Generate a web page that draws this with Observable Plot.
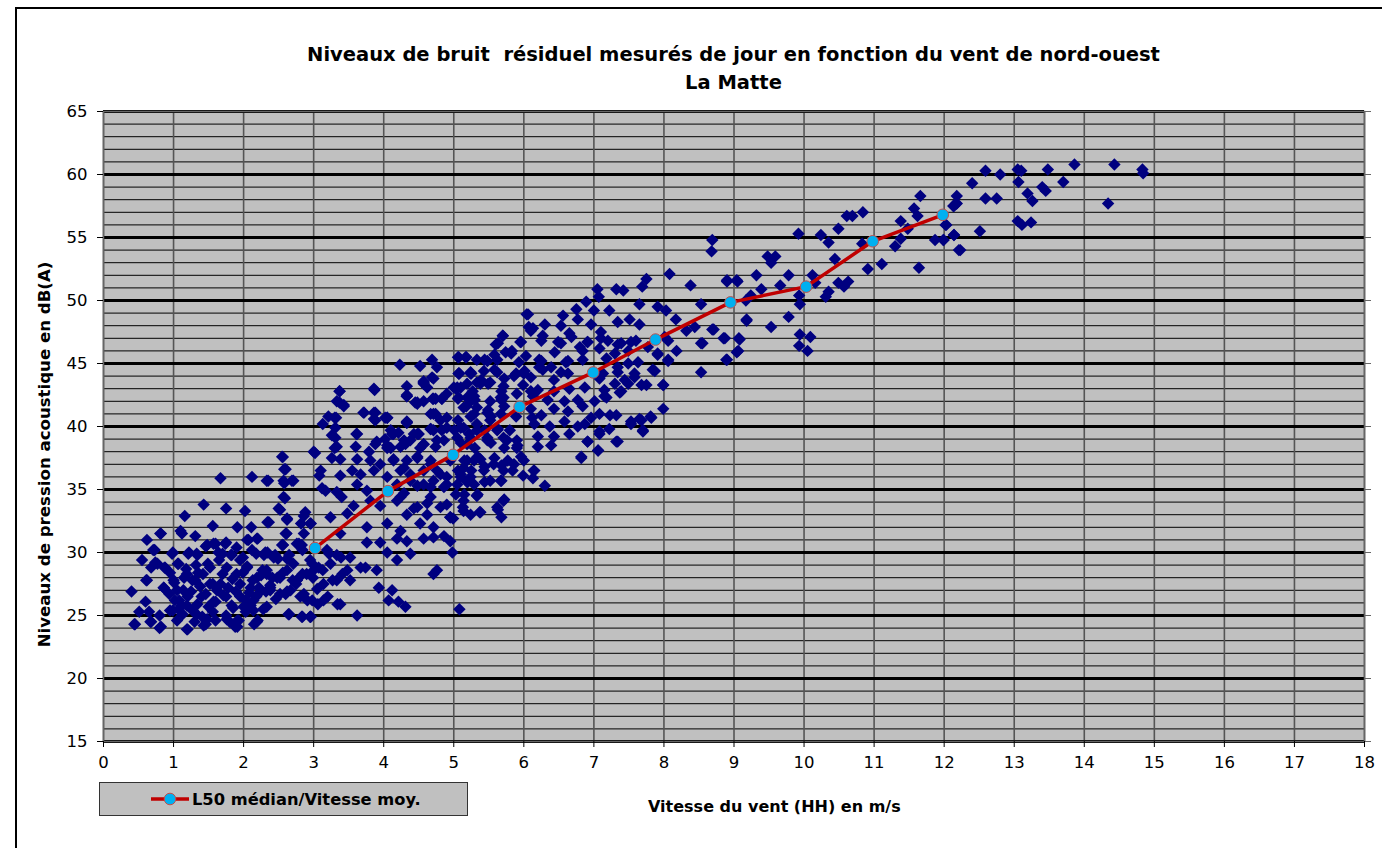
<!DOCTYPE html>
<html><head><meta charset="utf-8">
<script src="https://cdn.jsdelivr.net/npm/d3@7"></script>
<script src="https://cdn.jsdelivr.net/npm/@observablehq/plot@0.6"></script>
<style>
html,body{margin:0;padding:0;background:#fff;}
#wrap{position:relative;width:1382px;height:848px;overflow:hidden;font-family:"DejaVu Sans",sans-serif;}
#frame{position:absolute;left:15px;top:7px;width:1400px;height:900px;border:2px solid #000;box-sizing:border-box;}
#title{position:absolute;left:103px;width:1261px;top:41px;text-align:center;font-weight:bold;font-size:19.5px;line-height:28px;white-space:pre;color:#000;}
#chart{position:absolute;left:0;top:0;}
#xlabel{position:absolute;left:648px;top:797px;font-weight:bold;font-size:16px;white-space:nowrap;}
#ylabel{position:absolute;left:-156px;top:445px;width:400px;text-align:center;font-weight:bold;font-size:16.6px;transform:rotate(-90deg);white-space:nowrap;}
#legend{position:absolute;left:99px;top:782px;width:369px;height:34px;box-sizing:border-box;border:1px solid #333;background:#c0c0c0;display:flex;align-items:center;}
#legend svg{margin-left:50px;}
#legend span{font-weight:bold;font-size:16.3px;margin-left:2px;}
</style></head>
<body><div id="wrap">
<div id="frame"></div>
<div id="chart"></div>
<div id="title"></div>
<div id="ylabel"></div>
<div id="xlabel"></div>
<div id="legend"></div>
</div>
<script>
const titleLines = ["Niveaux de bruit  résiduel mesurés de jour en fonction du vent de nord-ouest", "La Matte"];
const xLabel = "Vitesse du vent (HH) en m/s";
const yLabel = "Niveaux de pression acoustique en dB(A)";
const legendLabel = "L50 médian/Vitesse moy.";
const xTicks = [0,1,2,3,4,5,6,7,8,9,10,11,12,13,14,15,16,17,18];
const yTicks = [15,20,25,30,35,40,45,50,55,60,65];
const yMinor = [15,16,17,18,19,20,21,22,23,24,25,26,27,28,29,30,31,32,33,34,35,36,37,38,39,40,41,42,43,44,45,46,47,48,49,50,51,52,53,54,55,56,57,58,59,60,61,62,63,64,65];

// L50 median by wind class
const medVent = [3.02,4.06,4.99,5.94,6.99,7.88,8.95,10.03,10.98,11.98];
const medL50  = [30.35,34.87,37.75,41.56,44.29,46.9,49.85,51.1,54.7,56.8];

// measured points [wind m/s, dB(A)]
const mesures = [
[2.56,37.57],[3.02,37.9],[3.30,38.3],[2.60,36.6],[1.67,35.9],[2.12,36.0],[2.35,35.7],[2.58,35.5],[2.71,35.7],[3.08,36.1],[3.17,34.9],[2.59,34.3],[1.43,33.8],[1.16,32.9],[1.75,33.5],[2.02,33.3],[2.52,33.4],[2.62,32.6],[2.88,33.2],[2.36,32.4],[1.56,32.1],[1.10,31.7],[0.82,31.5],[1.91,32.0],[2.11,32.0],[2.61,31.5],[2.82,32.3],[2.96,32.3],[1.46,30.5],[1.60,30.7],[1.75,30.8],[2.07,31.0],[2.20,31.1],[2.56,30.6],[2.79,30.7],[0.73,30.2],[0.99,30.0],[1.22,30.0],[1.34,29.8],[0.55,29.4],[0.68,28.8],[0.77,29.1],[0.88,28.8],[1.06,29.1],[1.18,28.7],[1.32,29.0],[1.49,29.1],[1.65,29.4],[1.82,29.8],[1.99,29.6],[2.18,29.9],[2.34,30.0],[2.49,29.5],[2.65,29.8],[2.84,30.2],[3.22,29.9],[3.39,29.6],[0.61,27.8],[0.86,27.2],[1.01,27.6],[1.15,28.0],[1.27,27.8],[1.42,28.3],[1.56,27.5],[1.70,28.3],[1.84,27.9],[1.99,28.4],[2.13,27.8],[2.27,28.6],[2.41,28.0],[2.56,28.4],[2.70,27.8],[2.84,28.3],[2.99,28.0],[3.13,28.6],[3.27,27.8],[3.41,28.3],[0.40,26.9],[0.60,26.1],[0.94,26.7],[1.08,26.2],[1.20,26.5],[1.34,25.9],[1.46,26.7],[1.60,26.1],[1.75,26.5],[1.89,26.9],[2.03,26.2],[2.18,26.5],[2.32,26.9],[2.46,26.3],[2.60,26.7],[2.75,27.5],[2.91,26.2],[3.06,25.9],[3.20,26.5],[3.34,25.9],[0.51,25.3],[0.65,25.3],[0.80,25.0],[0.99,25.4],[1.13,25.1],[1.27,25.4],[1.41,24.9],[1.56,25.3],[1.75,25.0],[1.91,24.6],[2.03,25.3],[2.20,24.6],[2.65,25.1],[2.84,24.9],[2.96,24.9],[0.45,24.3],[0.68,24.5],[0.82,24.1],[1.20,23.9],[1.46,24.3],[1.60,24.6],[1.91,24.1],
[1.05,27.0],[1.25,26.9],[1.38,27.3],[1.52,28.8],[1.62,27.0],[1.78,27.2],[1.95,27.5],[2.08,26.8],[2.22,27.2],[2.38,27.4],[1.12,25.8],[1.50,25.7],[1.85,25.6],[2.10,25.8],[2.28,25.5],[1.70,29.9],[1.90,30.4],[2.05,28.9],[2.25,28.2],[1.35,28.4],[0.95,28.4],[1.80,24.5],[2.15,24.3],[1.05,24.6],[1.30,24.5],[0.62,31.0],
[0.74,29.2],[0.87,28.8],[0.62,27.8],[0.67,24.5],[0.44,24.3],[0.80,24.0],[1.19,23.9],[0.86,27.2],[1.00,27.8],[0.98,29.9],[1.07,29.1],[1.21,29.9],[1.33,29.9],[1.19,28.3],[1.31,27.8],[1.14,27.0],[1.02,26.2],[0.95,25.4],[1.07,25.5],[1.19,25.8],[1.33,25.1],[1.48,24.7],[1.43,24.2],[1.52,27.5],[1.67,27.5],[1.40,26.5],[1.57,26.1],[1.71,26.6],[1.83,25.8],[1.76,24.7],[1.93,24.6],[1.88,24.1],[1.48,30.6],[1.57,30.7],[1.74,30.7],[1.64,30.0],[1.83,29.8],[1.95,29.4],[2.05,31.0],[2.19,31.1],[2.12,30.2],[2.29,29.8],[2.45,29.8],[2.62,29.5],[2.56,30.6],[2.61,31.5],[2.83,30.6],[1.76,28.8],[1.90,28.3],[2.05,28.8],[2.19,28.0],[2.33,28.6],[2.48,28.0],[2.62,28.6],[2.76,27.8],[2.90,28.3],[2.98,29.1],[2.10,27.2],[2.24,26.9],[2.38,27.2],[2.52,26.7],[2.67,27.0],[2.81,26.5],[2.98,26.2],[3.05,27.1],[1.95,26.5],[2.14,26.2],[2.33,25.7],[2.14,25.4],[2.00,25.7],[2.64,25.1],[2.83,24.9],[2.95,24.9],[2.19,24.5],[1.31,31.3],[1.12,31.5],[0.81,31.5],[0.71,30.2],
[3.37,42.8],[3.87,42.9],[3.37,41.9],[3.43,41.7],[4.33,42.5],[4.57,43.4],[4.69,43.9],[4.48,41.9],[4.70,42.2],[4.83,42.2],[5.07,44.2],[5.24,44.2],[5.05,43.1],[5.19,42.3],[3.72,41.1],[3.88,41.1],[3.88,40.5],[4.05,40.7],[4.33,40.4],[3.21,40.8],[3.32,40.7],[3.13,40.2],[4.71,41.0],[4.90,40.7],[5.29,41.0],[3.26,39.3],[3.61,39.4],[4.10,39.7],[4.48,39.4],[4.67,39.8],[4.83,39.7],[5.10,39.9],[5.33,40.2],[3.33,38.4],[3.60,38.4],[3.79,38.0],[3.90,38.8],[4.05,38.5],[4.24,38.4],[4.38,38.9],[4.57,38.6],[4.74,38.4],[3.00,38.0],[2.55,37.6],[3.26,37.5],[3.38,37.4],[3.62,37.4],[3.81,37.3],[3.95,37.0],[4.14,37.4],[4.33,37.3],[4.48,37.6],[4.67,37.3],[5.19,37.3],[5.38,37.4],[2.58,36.6],[3.10,36.5],[3.38,36.1],[3.55,36.5],[3.67,36.2],[3.86,36.5],[4.24,36.5],[4.38,36.2],[4.57,36.5],[4.76,36.5],[4.90,36.0],[5.10,36.2],[5.24,36.0],[2.33,35.7],[2.57,35.7],[2.69,35.7],[3.12,35.1],[3.33,34.8],[3.62,35.4],[3.76,34.9],[4.29,34.7],[4.48,35.3],[4.67,35.2],[4.86,35.2],[5.05,35.4],[5.19,35.6],[5.33,34.5],[2.57,34.4],[3.40,34.4],[3.57,33.7],[3.81,34.1],[3.95,33.7],[4.19,34.1],[4.43,33.5],[4.62,33.9],[4.81,33.6],[5.14,33.3],[5.38,33.2],[2.50,33.5],[2.86,32.9],[2.62,32.7],[2.34,32.4],[2.95,32.3],[3.24,32.8],[3.48,33.1],[3.76,32.0],[4.05,32.3],[4.24,31.7],[4.52,32.3],[4.71,32.0],[4.95,32.8],[2.60,31.5],[2.86,31.5],[3.38,31.5],[3.76,30.8],[3.95,30.8],[4.19,31.1],[4.33,30.9],[4.57,31.1],[4.71,31.2],[4.86,31.3],[4.95,30.9],[2.55,30.6],[2.76,30.7],[3.19,30.2],[3.33,29.8],[3.52,29.6],[4.05,30.0],[4.19,29.4],[4.38,29.9],[4.98,30.0],[2.31,30.0],[2.43,29.6],[2.71,29.1],[2.95,29.4],[3.07,28.8],[3.24,29.1],[3.48,28.6],[3.67,28.8],[3.74,28.8],[3.90,28.6],[2.33,28.3],[2.52,28.0],[2.76,27.8],[3.00,28.6],[3.14,27.5],[3.33,27.8],[3.52,27.8],[4.71,28.3],[4.76,28.6],[2.38,27.0],[2.62,26.9],[2.86,26.7],[3.14,26.2],[3.38,25.9],[3.93,27.2],[4.07,26.2],[4.12,27.0],[4.21,26.1],[4.31,25.7],[2.95,24.9],[3.62,25.0],[5.08,25.5],
[4.33,42.4],[4.48,41.8],[4.71,42.2],[4.67,41.0],[4.90,42.6],[5.10,43.1],[5.21,42.2],[5.33,41.5],[5.52,42.0],[5.71,42.3],[5.67,41.0],[5.90,42.6],[6.10,42.8],[6.12,40.7],[4.02,40.7],[4.33,40.3],[4.14,39.4],[4.29,38.9],[4.43,39.4],[4.52,38.3],[4.71,39.7],[4.86,38.9],[5.05,39.1],[5.19,38.6],[5.33,39.7],[5.48,38.9],[5.62,39.7],[5.76,38.9],[5.90,38.3],[6.00,37.3],[6.14,36.5],[4.05,38.3],[4.14,37.3],[4.29,36.7],[4.48,37.5],[4.67,37.0],[4.81,36.2],[4.95,37.3],[5.14,36.7],[5.29,37.3],[5.43,36.5],[5.57,37.0],[5.71,36.5],[5.86,37.0],[4.05,36.0],[4.19,35.4],[4.38,35.7],[4.57,35.4],[4.71,35.7],[4.90,35.4],[5.10,36.0],[5.29,35.4],[5.52,35.7],[5.67,35.7],[4.24,34.4],[4.48,33.6],[4.67,34.4],[4.90,33.8],[5.14,34.1],[5.33,34.5],[5.71,34.1],[4.33,33.0],[4.62,33.0],[4.95,32.8],[5.24,33.0],[5.62,33.6],[4.57,43.5],[4.33,43.2],[5.38,43.4],
[5.70,47.2],[5.63,46.6],[5.96,46.7],[5.06,45.5],[5.18,45.5],[5.44,45.3],[5.58,45.7],[5.82,45.8],[6.10,47.6],[6.27,47.2],[6.53,46.6],[6.65,47.4],[6.80,46.3],[6.91,46.7],[7.10,47.0],[7.34,46.5],[7.53,46.7],[7.77,46.3],[8.01,47.1],[8.06,45.3],[7.91,45.7],[6.22,45.3],[6.39,44.7],[6.60,45.1],[6.84,45.3],[7.18,45.4],[7.34,44.7],[7.49,45.0],[7.63,45.1],[7.84,44.5],[5.08,44.2],[5.25,44.2],[5.39,43.7],[5.58,44.5],[5.72,43.8],[5.89,44.2],[6.10,43.9],[6.27,44.5],[6.43,43.7],[6.63,44.2],[7.08,43.8],[7.30,43.4],[7.44,43.7],[7.58,44.2],[7.75,43.3],[7.99,43.3],[5.03,43.0],[5.27,42.8],[5.49,43.4],[5.68,42.8],[5.99,43.3],[6.20,42.9],[6.43,42.8],[6.65,43.0],[6.87,43.1],[7.15,42.9],[7.39,42.8],[5.06,42.2],[5.30,42.1],[5.68,42.1],[6.13,42.4],[6.34,42.1],[6.58,42.0],[6.77,42.1],[7.01,42.0],[7.15,42.4],[7.99,41.4],[5.18,41.6],[5.49,41.3],[5.72,41.6],[6.10,41.4],[6.25,40.9],[6.43,41.4],[6.63,41.2],[6.84,41.6],[7.08,41.0],[7.32,40.9],[7.53,40.4],[7.65,40.6],[7.81,40.8],[7.70,39.7],[5.06,40.5],[5.25,40.8],[5.53,40.8],[5.89,40.8],[6.15,40.2],[6.37,40.0],[6.58,40.4],[6.77,40.0],[6.87,40.2],[7.08,39.6],[7.22,39.8],[7.34,38.8],[5.01,39.7],[5.22,39.4],[5.44,39.7],[5.63,39.8],[5.80,39.7],[6.20,39.2],[6.43,39.2],[6.65,39.4],[6.91,38.8],[7.06,38.1],[5.10,38.7],[5.30,38.3],[5.53,38.7],[5.72,38.3],[5.91,38.5],[6.20,38.4],[6.39,38.5],[6.82,37.5],[5.15,37.3],[5.34,37.6],[5.58,37.5],[5.77,37.3],[5.96,37.6],[5.06,36.5],[5.25,36.5],[5.44,36.8],[5.68,36.9],[5.84,36.5],[6.15,36.5],[5.20,35.6],[5.44,35.6],[5.68,35.7],[5.99,36.1],[6.13,35.9],[6.30,35.3],[5.03,34.6],[5.15,34.6],[5.34,34.6],[5.72,34.2],[5.13,33.6],[5.37,33.2],[5.63,33.4],[5.68,32.8],[4.99,32.7],
[8.08,52.1],[7.75,51.7],[7.69,51.1],[7.05,50.9],[7.07,50.3],[7.32,50.9],[7.42,50.8],[8.38,51.2],[8.90,51.5],[9.05,51.5],[6.06,48.9],[6.56,48.8],[6.75,49.3],[6.89,49.9],[7.00,49.2],[7.22,49.2],[7.65,49.7],[7.91,49.5],[8.03,49.2],[8.53,49.7],[9.18,48.4],[6.13,47.8],[6.30,48.1],[6.53,48.0],[6.77,48.5],[6.96,48.1],[7.10,47.5],[7.34,48.3],[7.51,48.5],[7.65,48.1],[8.17,48.5],[8.32,47.6],[8.44,47.9],[8.71,47.7],[8.87,47.0],[9.08,46.9],[6.25,46.8],[6.49,46.7],[6.68,47.1],[6.91,46.7],[7.20,46.8],[7.39,46.6],[7.60,46.8],[8.06,46.8],[8.53,46.6],[8.18,46.0],[9.06,46.0],[8.89,45.3],[6.03,45.6],[6.25,45.2],[6.44,45.9],[6.63,45.2],[6.84,46.0],[7.08,46.2],[7.30,45.8],[7.49,46.0],[7.91,45.8],[8.06,45.2],[7.87,44.4],[8.53,44.3],[7.99,43.3],[6.01,44.4],[6.22,44.7],[6.53,44.3],[7.13,44.2],[7.34,44.3],[7.49,43.4],[7.68,43.3],[7.58,43.9],[7.37,42.7],[7.18,42.3],[7.82,40.7],[7.68,40.5],[7.53,40.2],[7.70,39.6],[7.32,38.8],[7.08,39.4],[6.91,38.8],[7.06,38.1],[6.82,37.6],[7.23,40.9],[6.96,40.7],
[8.69,54.8],[8.68,53.9],[8.90,51.6],[9.04,51.6],[9.17,50.0],[9.24,50.4],[9.32,52.0],[9.39,50.9],[9.48,53.5],[9.59,53.5],[9.53,53.0],[9.66,51.2],[9.78,52.0],[9.18,48.5],[9.53,47.9],[9.78,48.7],[8.69,47.7],[8.85,47.0],[9.07,47.0],[8.55,46.6],[9.04,45.9],[8.90,45.3],[9.92,55.3],[9.93,50.4],[9.94,49.7],[9.94,47.3],[10.09,47.1],[9.93,46.4],[10.05,46.0],[10.12,52.0],[10.16,51.4],[10.24,55.2],[10.35,54.6],[10.49,55.7],[10.44,53.3],[10.31,50.3],[10.35,50.7],[10.49,51.4],[10.57,51.1],[10.63,51.5],[10.61,56.7],[10.69,56.7],[10.84,57.0],[10.83,54.5],[10.91,52.5],[11.11,52.9],[11.30,54.3],[11.38,56.3],[11.38,54.9],[11.48,55.7],[11.57,57.3],[11.62,56.7],[11.66,58.3],[11.64,52.6],[11.87,54.8],[11.99,54.8],[12.03,56.0],[12.13,57.5],[12.17,57.7],[12.14,55.2],[12.21,54.0],
[12.59,60.3],[12.80,60.0],[12.40,59.3],[12.18,58.3],[12.14,57.5],[12.18,57.7],[12.02,56.0],[12.14,55.2],[11.99,54.8],[12.23,54.0],[12.51,55.5],[12.59,58.1],[12.75,58.1],[13.05,60.4],[13.10,60.3],[13.06,59.4],[13.19,58.5],[13.26,57.9],[13.05,56.3],[13.11,56.0],[13.24,56.2],[13.40,59.0],[13.45,58.7],[13.48,60.4],[13.70,59.4],[13.86,60.8],[14.34,57.7],[14.43,60.8],[14.83,60.4],[14.84,60.1],
[6.04,48.9],[6.07,47.9],[5.70,47.2],[5.60,46.5],[5.95,46.7],[5.74,45.9],[5.83,46.0],[5.07,45.5],[5.17,45.5],[5.33,45.3],[5.48,45.2],[5.62,45.3],[5.93,45.1],[4.23,44.9],[4.52,44.8],[4.69,45.3],[4.76,44.7],[5.07,44.2],[5.24,44.3],[5.43,44.4],[5.62,44.3],[5.86,44.0],[6.00,44.2],[4.57,43.6],[4.71,43.8],[4.62,43.1],[5.00,43.1],[5.19,43.4],[5.33,43.5],[5.52,43.5],[5.71,43.2],[3.37,42.8],[3.86,43.0],[4.33,42.4],[5.07,42.3],[5.29,42.4],[5.67,42.3],[3.33,42.0],[3.43,41.6],[4.45,41.9],[4.57,42.0],[4.74,42.2],[4.83,42.2],[5.14,41.5],[5.24,42.0],[3.71,41.1],[3.86,41.1],[3.86,40.6],[4.05,40.7],[3.30,40.7],[4.33,40.3],[4.74,41.0],[4.81,40.5],[5.24,40.8],[5.48,41.1],[5.52,40.5],[3.31,39.9],[3.31,39.1],[3.62,39.4],[4.02,39.0],[4.12,39.4],[4.21,39.5],[4.50,39.4],[4.67,39.8],[4.90,39.9],[5.14,39.9],[3.88,38.6],[4.10,38.3],[4.31,38.6],[4.57,38.6],[4.76,38.9],[5.24,39.1],[5.48,39.1],[5.71,39.1],[5.90,38.9]
];

const median = medVent.map((v,i)=>({vent:v, l50:medL50[i]}));

document.getElementById("title").textContent = titleLines.join("\n");
document.getElementById("xlabel").textContent = xLabel;
document.getElementById("ylabel").textContent = yLabel;
document.getElementById("legend").innerHTML =
  `<svg width="40" height="20"><line x1="1" y1="10" x2="39" y2="10" stroke="#c00000" stroke-width="3.5"/><circle cx="20" cy="10" r="5.8" fill="#00b0f0" stroke="#c0504d" stroke-width="1"/></svg><span>${legendLabel}</span>`;

const chart = Plot.plot({
  width: 1382, height: 848,
  marginTop: 111, marginBottom: 107, marginLeft: 103, marginRight: 18,
  x: {domain: [0, 18]},
  y: {domain: [15, 65]},
  style: {fontFamily: "DejaVu Sans, sans-serif", fontSize: "16.5px", background: "transparent", color: "#000"},
  marks: [
    Plot.frame({fill: "#c0c0c0"}),
    Plot.gridY(yMinor, {stroke: "#000", strokeOpacity: 1, strokeWidth: 1}),
    Plot.gridX(xTicks, {stroke: "#555", strokeOpacity: 1, strokeWidth: 1.6}),
    Plot.gridY(yTicks, {stroke: "#000", strokeOpacity: 1, strokeWidth: 3}),
    Plot.frame({stroke: "#666", strokeWidth: 1.5}),
    Plot.axisY(yTicks, {tickSize: 6, tickPadding: 10, label: null, fontSize: 16.5, stroke: "#000"}),
    Plot.axisY(yTicks, {anchor: "right", tickSize: 6, tickFormat: () => "", label: null, stroke: "#666"}),
    Plot.axisX(xTicks, {tickSize: 6, tickPadding: 9, label: null, fontSize: 16.5, stroke: "#000"}),
    Plot.dot(mesures, {x: d => d[0], y: d => d[1], symbol: "diamond2", r: 5.6, fill: "#000080", stroke: "none"}),
    Plot.line(median, {x: "vent", y: "l50", stroke: "#c00000", strokeWidth: 3.5}),
    Plot.dot(median, {x: "vent", y: "l50", r: 5.8, fill: "#00b0f0", stroke: "#c0504d", strokeWidth: 1})
  ]
});
document.getElementById("chart").appendChild(chart);
</script>
</body></html>
